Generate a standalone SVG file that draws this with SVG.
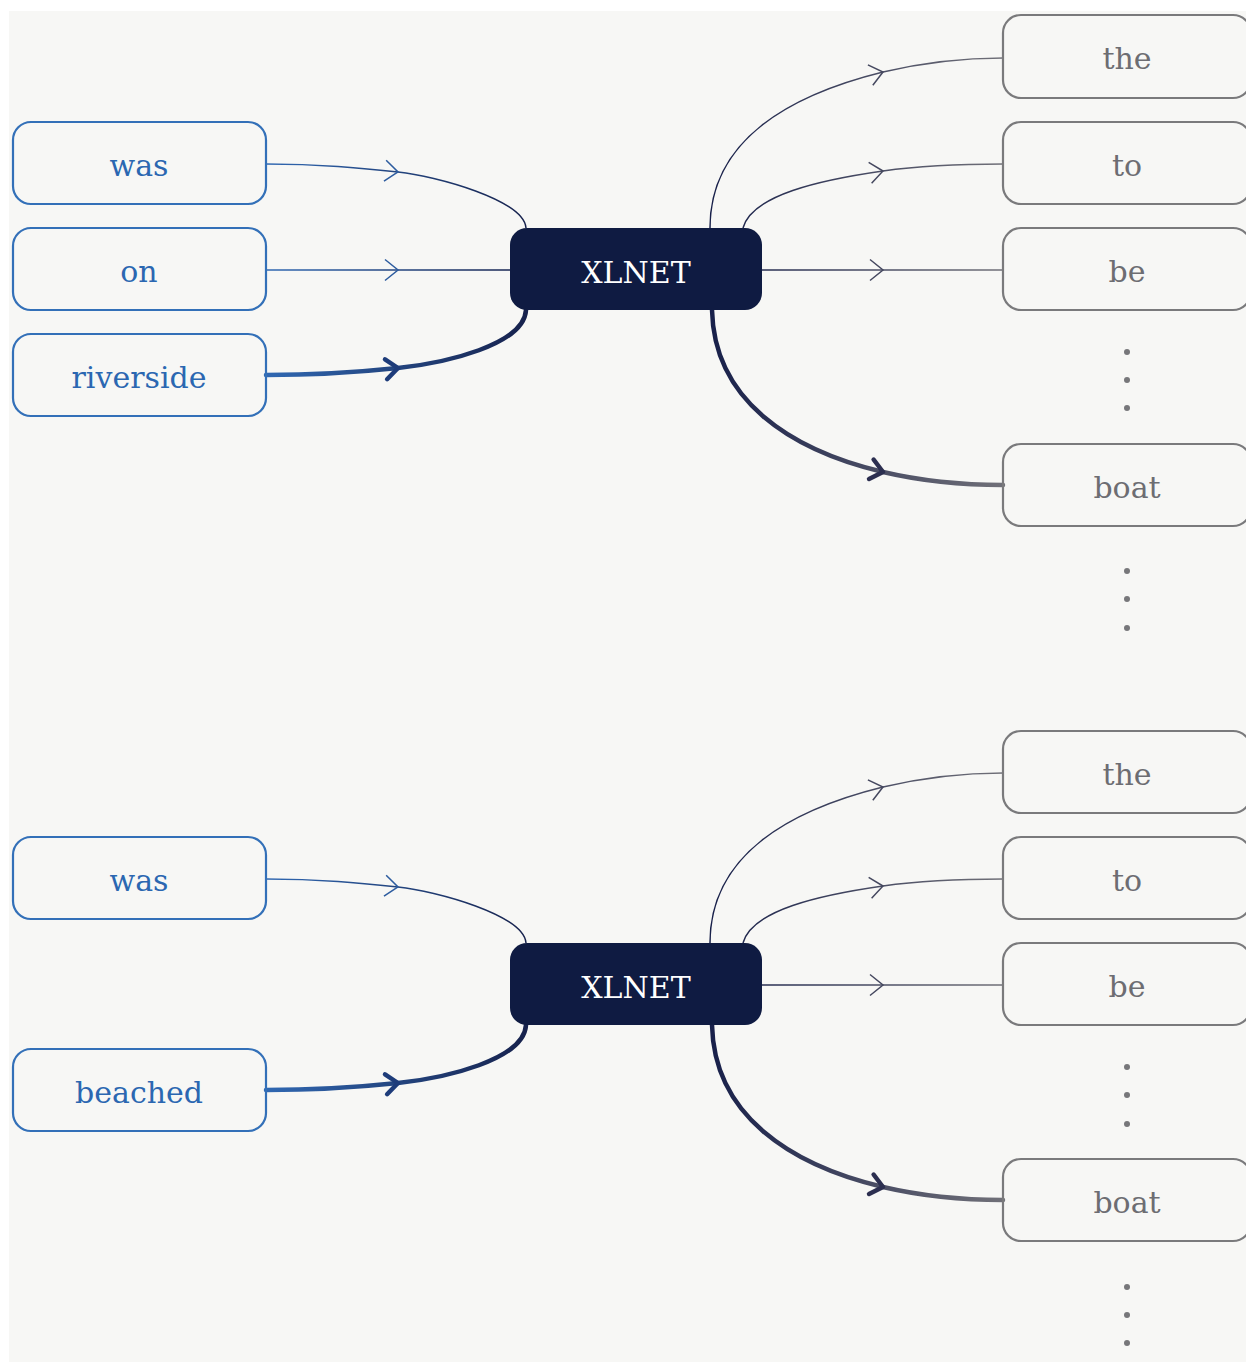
<svg xmlns="http://www.w3.org/2000/svg" width="1246" height="1364" viewBox="0 0 1246 1364">
  <style>
    .in rect { fill: none; stroke: #3370b8; stroke-width: 2.2; }
    .out rect { fill: none; stroke: #7a7a7c; stroke-width: 2.2; }
    .core rect { fill: #0f1b42; }
    text { font-family: "DejaVu Serif", "Liberation Serif", serif; font-size: 30px; text-anchor: middle; }
    .in text { fill: #2b67b1; }
    .out text { fill: #6d6d72; }
    .core text { fill: #ffffff; }
    .dots circle { fill: #77777a; }
    .edge { fill: none; }
    .thin { stroke-width: 1.5; }
    .thick { stroke-width: 4.5; stroke-linecap: round; }
  </style>
  <defs>
    <linearGradient id="gL" gradientUnits="userSpaceOnUse" x1="266" y1="0" x2="526" y2="0">
      <stop offset="0" stop-color="#3068b2"/>
      <stop offset="1" stop-color="#17224d"/>
    </linearGradient>
    <linearGradient id="gR" gradientUnits="userSpaceOnUse" x1="710" y1="0" x2="1003" y2="0">
      <stop offset="0" stop-color="#18204a"/>
      <stop offset="1" stop-color="#707078"/>
    </linearGradient>
    <marker id="aL" markerUnits="userSpaceOnUse" orient="auto" markerWidth="30" markerHeight="30" viewBox="-15 -15 30 30" refX="0" refY="0" overflow="visible">
      <path d="M-13,-10.5 L0,0 L-13,10.5" fill="none" stroke="#2d5c9f" stroke-width="1.5"/>
    </marker>
    <marker id="aLb" markerUnits="userSpaceOnUse" orient="auto" markerWidth="30" markerHeight="30" viewBox="-15 -15 30 30" refX="0" refY="0" overflow="visible">
      <path d="M-12,-10 L0,0 L-12,10" fill="none" stroke="#1e3c7a" stroke-width="4.5" stroke-linecap="round" stroke-linejoin="round"/>
    </marker>
    <marker id="aR" markerUnits="userSpaceOnUse" orient="auto" markerWidth="30" markerHeight="30" viewBox="-15 -15 30 30" refX="0" refY="0" overflow="visible">
      <path d="M-13,-10.5 L0,0 L-13,10.5" fill="none" stroke="#45485f" stroke-width="1.5"/>
    </marker>
    <marker id="aRb" markerUnits="userSpaceOnUse" orient="auto" markerWidth="30" markerHeight="30" viewBox="-15 -15 30 30" refX="0" refY="0" overflow="visible">
      <path d="M-12,-10 L0,0 L-12,10" fill="none" stroke="#2c2f50" stroke-width="4.5" stroke-linecap="round" stroke-linejoin="round"/>
    </marker>
  </defs>

  <rect x="9" y="11" width="1237" height="1351" fill="#f7f7f5"/>

  <!-- upper sequence: was / on / riverside -->
  <g id="edges-top">
    <path class="edge thin" stroke="url(#gL)" marker-mid="url(#aL)" d="M266,164 C320,164 360,168 398,172 C436,176 524,200 526,228"/>
    <path class="edge thin" stroke="url(#gL)" marker-mid="url(#aL)" d="M266,270 L398,270 L510,270"/>
    <path class="edge thick" stroke="url(#gL)" marker-mid="url(#aLb)" d="M266,375 C320,375 360,372 398,368 C445,363 524,345 526,310"/>
    <path class="edge thin" stroke="url(#gR)" marker-mid="url(#aR)" d="M710,228 C710,140 790,95 883,72 C930,61 965,58 1003,58"/>
    <path class="edge thin" stroke="url(#gR)" marker-mid="url(#aR)" d="M743,228 C752,195 820,180 883,171 C925,165 965,164 1003,164"/>
    <path class="edge thin" stroke="url(#gR)" marker-mid="url(#aR)" d="M762,270 L883,270 L1003,270"/>
    <path class="edge thick" stroke="url(#gR)" marker-mid="url(#aRb)" d="M712,310 C714,400 790,450 883,472 C930,483 970,485 1003,485"/>
  </g>

  <g id="t1-was" class="in"><rect x="13" y="122" width="253" height="82" rx="18"/><text x="139" y="176">was</text></g>
  <g id="t1-on" class="in"><rect x="13" y="228" width="253" height="82" rx="18"/><text x="139" y="282">on</text></g>
  <g id="t1-riverside" class="in"><rect x="13" y="334" width="253" height="82" rx="18"/><text x="139" y="388">riverside</text></g>
  <g id="t1-xlnet" class="core"><rect x="510" y="228" width="252" height="82" rx="17"/><text x="636" y="283">XLNET</text></g>
  <g id="t1-the" class="out"><rect x="1003" y="15" width="248" height="83" rx="18"/><text x="1127" y="69">the</text></g>
  <g id="t1-to" class="out"><rect x="1003" y="122" width="248" height="82" rx="18"/><text x="1127" y="176">to</text></g>
  <g id="t1-be" class="out"><rect x="1003" y="228" width="248" height="82" rx="18"/><text x="1127" y="282">be</text></g>
  <g id="t1-boat" class="out"><rect x="1003" y="444" width="248" height="82" rx="18"/><text x="1127" y="498">boat</text></g>
  <g id="t1-dots" class="dots">
    <circle cx="1127" cy="352" r="3"/><circle cx="1127" cy="380" r="3"/><circle cx="1127" cy="408" r="3"/>
    <circle cx="1127" cy="571" r="3"/><circle cx="1127" cy="599" r="3"/><circle cx="1127" cy="628" r="3"/>
  </g>

  <!-- lower sequence: was / beached -->
  <g id="edges-bottom" transform="translate(0,715)">
    <path class="edge thin" stroke="url(#gL)" marker-mid="url(#aL)" d="M266,164 C320,164 360,168 398,172 C436,176 524,200 526,228"/>
    <path class="edge thick" stroke="url(#gL)" marker-mid="url(#aLb)" d="M266,375 C320,375 360,372 398,368 C445,363 524,345 526,310"/>
    <path class="edge thin" stroke="url(#gR)" marker-mid="url(#aR)" d="M710,228 C710,140 790,95 883,72 C930,61 965,58 1003,58"/>
    <path class="edge thin" stroke="url(#gR)" marker-mid="url(#aR)" d="M743,228 C752,195 820,180 883,171 C925,165 965,164 1003,164"/>
    <path class="edge thin" stroke="url(#gR)" marker-mid="url(#aR)" d="M762,270 L883,270 L1003,270"/>
    <path class="edge thick" stroke="url(#gR)" marker-mid="url(#aRb)" d="M712,310 C714,400 790,450 883,472 C930,483 970,485 1003,485"/>
  </g>

  <g id="t2-was" class="in"><rect x="13" y="837" width="253" height="82" rx="18"/><text x="139" y="891">was</text></g>
  <g id="t2-beached" class="in"><rect x="13" y="1049" width="253" height="82" rx="18"/><text x="139" y="1103">beached</text></g>
  <g id="t2-xlnet" class="core"><rect x="510" y="943" width="252" height="82" rx="17"/><text x="636" y="998">XLNET</text></g>
  <g id="t2-the" class="out"><rect x="1003" y="731" width="248" height="82" rx="18"/><text x="1127" y="785">the</text></g>
  <g id="t2-to" class="out"><rect x="1003" y="837" width="248" height="82" rx="18"/><text x="1127" y="891">to</text></g>
  <g id="t2-be" class="out"><rect x="1003" y="943" width="248" height="82" rx="18"/><text x="1127" y="997">be</text></g>
  <g id="t2-boat" class="out"><rect x="1003" y="1159" width="248" height="82" rx="18"/><text x="1127" y="1213">boat</text></g>
  <g id="t2-dots" class="dots">
    <circle cx="1127" cy="1067" r="3"/><circle cx="1127" cy="1095" r="3"/><circle cx="1127" cy="1124" r="3"/>
    <circle cx="1127" cy="1287" r="3"/><circle cx="1127" cy="1315" r="3"/><circle cx="1127" cy="1343" r="3"/>
  </g>
</svg>
